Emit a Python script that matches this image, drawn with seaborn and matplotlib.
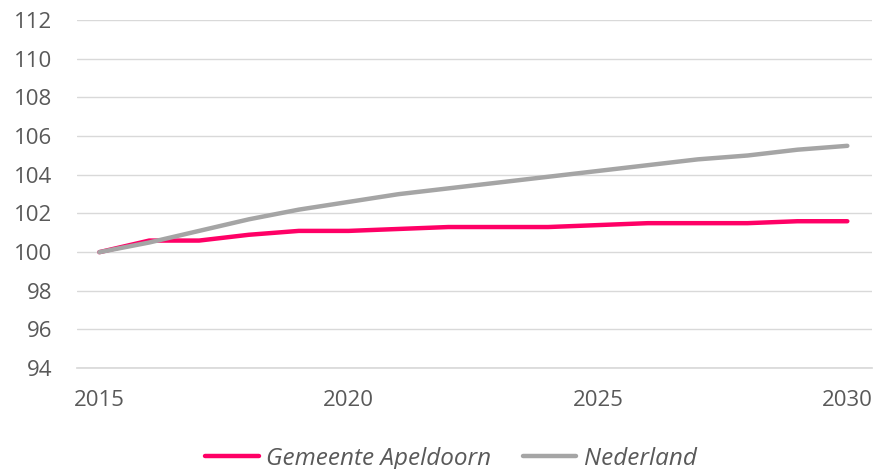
import pandas as pd
import matplotlib.pyplot as plt
import seaborn as sns

# Indexcijfers (2015 = 100)
years = list(range(2015, 2031))
apeldoorn = [100.0, 100.6, 100.6, 100.9, 101.1, 101.1, 101.2, 101.3,
             101.3, 101.3, 101.4, 101.5, 101.5, 101.5, 101.6, 101.6]
nederland = [100.0, 100.5, 101.1, 101.7, 102.2, 102.6, 103.0, 103.3,
             103.6, 103.9, 104.2, 104.5, 104.8, 105.0, 105.3, 105.5]
series_names = ["Gemeente Apeldoorn", "Nederland"]
series_colors = ["#FF0066", "#A5A5A5"]
y_ticks = list(range(94, 113, 2))
x_ticks = [2015, 2020, 2025, 2030]

df = pd.DataFrame({
    "jaar": years * 2,
    "index": apeldoorn + nederland,
    "gebied": [series_names[0]] * len(years) + [series_names[1]] * len(years),
})

sns.set_theme(style="white")
plt.rcParams["font.family"] = ["Open Sans", "DejaVu Sans"]
text_color = "#595959"

fig = plt.figure(figsize=(8.74, 4.69), dpi=100)
ax = fig.add_axes([0.088, 0.215, 0.91, 0.742])

sns.lineplot(data=df, x="jaar", y="index", hue="gebied",
             palette=dict(zip(series_names, series_colors)),
             linewidth=3.2, ax=ax, legend=False,
             solid_capstyle="round", solid_joinstyle="round")

ax.set_xlim(2014.55, 2030.5)
ax.set_ylim(94, 112)
ax.set_yticks(y_ticks)
ax.set_xticks(x_ticks)
ax.grid(axis="y", color="#D9D9D9", linewidth=1)
ax.set_axisbelow(True)
for side in ["top", "right", "left"]:
    ax.spines[side].set_visible(False)
ax.spines["bottom"].set_color("#D9D9D9")
ax.tick_params(axis="both", colors=text_color, labelsize=16, length=0)
ax.tick_params(axis="x", pad=16)
ax.tick_params(axis="y", pad=18)
ax.set_xlabel("")
ax.set_ylabel("")

handles = [plt.Line2D([], [], color=c, linewidth=3.2, solid_capstyle="round")
           for c in series_colors]
leg = fig.legend(handles, series_names, loc="lower center", ncol=2,
                 bbox_to_anchor=(0.516, -0.05), frameon=False,
                 handlelength=2.2, handletextpad=0.3, columnspacing=1.3,
                 prop={"style": "italic", "size": 17.5})
for t in leg.get_texts():
    t.set_color(text_color)

fig.savefig("out.png", dpi=100)
